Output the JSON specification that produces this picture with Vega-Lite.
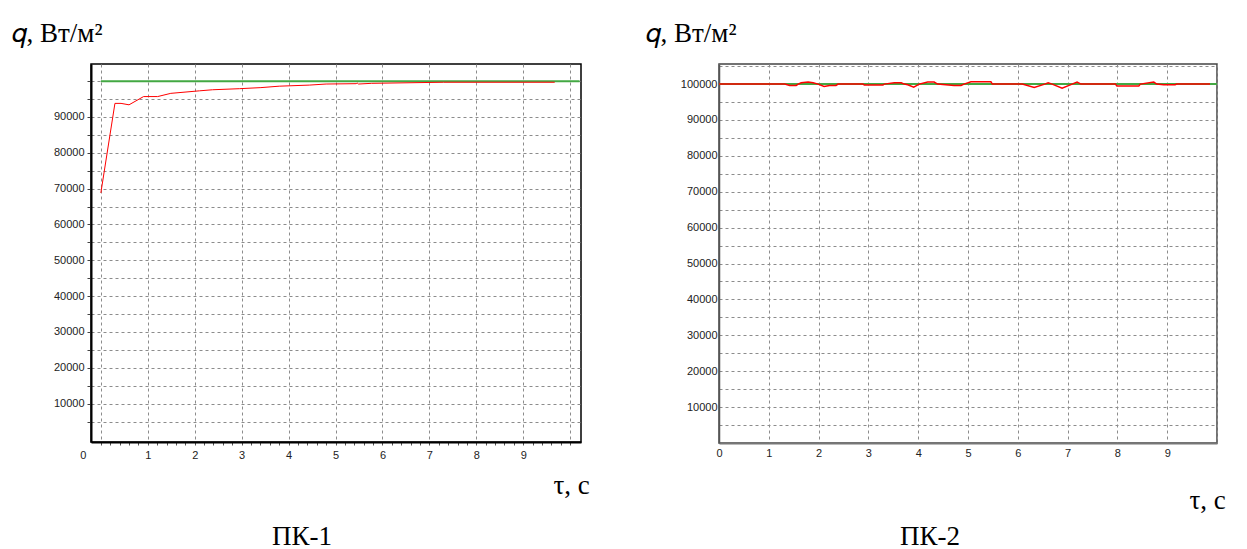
{
  "$schema": "https://vega.github.io/schema/vega-lite/v6.json",
  "background": "white",
  "padding": {"left": 10, "top": 18, "right": 5, "bottom": 0},
  "spacing": 53,
  "datasets": {
    "g1": [{"t": 0, "q": 100000}, {"t": 10.2, "q": 100000}],
    "r1": [
      {"t": 0.0, "q": 68800}, {"t": 0.30, "q": 93800}, {"t": 0.43, "q": 93800}, {"t": 0.60, "q": 93400},
      {"t": 0.91, "q": 95700}, {"t": 1.21, "q": 95700}, {"t": 1.49, "q": 96600}, {"t": 2.10, "q": 97300},
      {"t": 2.38, "q": 97600}, {"t": 2.95, "q": 97900}, {"t": 3.41, "q": 98200}, {"t": 3.80, "q": 98600},
      {"t": 4.44, "q": 98900}, {"t": 4.80, "q": 99200}, {"t": 5.44, "q": 99300}, {"t": 5.46, "q": 99500},
      {"t": 5.49, "q": 99200}, {"t": 5.77, "q": 99400}, {"t": 7.30, "q": 99700}, {"t": 9.67, "q": 99700}
    ],
    "g2": [{"t": 0, "q": 100000}, {"t": 10, "q": 100000}],
    "r2": [
      {"t": 0, "q": 100000}, {"t": 1.32, "q": 100000}, {"t": 1.42, "q": 99630}, {"t": 1.55, "q": 99630},
      {"t": 1.59, "q": 100000}, {"t": 1.65, "q": 100370}, {"t": 1.79, "q": 100560}, {"t": 1.89, "q": 100370},
      {"t": 1.99, "q": 100000}, {"t": 2.11, "q": 99350}, {"t": 2.22, "q": 99630}, {"t": 2.35, "q": 99630},
      {"t": 2.39, "q": 100000}, {"t": 2.89, "q": 100000}, {"t": 2.92, "q": 99720}, {"t": 3.29, "q": 99720},
      {"t": 3.32, "q": 100000}, {"t": 3.52, "q": 100370}, {"t": 3.66, "q": 100370}, {"t": 3.72, "q": 100000},
      {"t": 3.79, "q": 99800}, {"t": 3.91, "q": 99160}, {"t": 4.02, "q": 100000}, {"t": 4.19, "q": 100560},
      {"t": 4.32, "q": 100560}, {"t": 4.39, "q": 100000}, {"t": 4.72, "q": 99630}, {"t": 4.86, "q": 99630},
      {"t": 4.92, "q": 100000}, {"t": 5.06, "q": 100650}, {"t": 5.46, "q": 100650}, {"t": 5.49, "q": 100000},
      {"t": 6.09, "q": 100000}, {"t": 6.33, "q": 99070}, {"t": 6.54, "q": 100000}, {"t": 6.61, "q": 100370},
      {"t": 6.69, "q": 100000}, {"t": 6.89, "q": 98880}, {"t": 7.09, "q": 100000}, {"t": 7.19, "q": 100560},
      {"t": 7.27, "q": 100000}, {"t": 7.96, "q": 100000}, {"t": 7.99, "q": 99440}, {"t": 8.43, "q": 99440},
      {"t": 8.46, "q": 100000}, {"t": 8.73, "q": 100560}, {"t": 8.79, "q": 100000}, {"t": 8.93, "q": 99810},
      {"t": 9.16, "q": 99810}, {"t": 9.19, "q": 100000}, {"t": 9.86, "q": 100000}
    ]
  },
  "config": {
    "axis": {
      "labelFont": "Liberation Sans", "labelFontSize": 11, "labelColor": "#222",
      "gridColor": "#8c8c8c", "gridDash": [3, 3], "gridWidth": 1,
      "titleFont": "Liberation Serif", "titleFontSize": 27, "titleFontWeight": "normal", "titleColor": "#000",
      "titleAngle": 0, "titleAlign": "left", "titleBaseline": "alphabetic"
    },
    "title": {"font": "Liberation Serif", "fontSize": 27, "fontWeight": "normal", "color": "#000"}
  },
  "hconcat": [
    {
      "width": 490, "height": 378,
      "view": {"stroke": "#000", "strokeWidth": 1.5},
      "title": {"text": "ПК-1", "orient": "bottom", "anchor": "middle", "baseline": "top", "offset": 26, "dx": -34},
      "encoding": {
        "x": {
          "field": "t", "type": "quantitative",
          "scale": {"domain": [-0.21, 10.23], "nice": false, "zero": false},
          "axis": {
            "title": "τ, с", "titleX": 462, "titleY": 51,
            "values": [0,0.2,0.4,0.6,0.8,1,1.2,1.4,1.6,1.8,2,2.2,2.4,2.6,2.8,3,3.2,3.4,3.6,3.8,4,4.2,4.4,4.6,4.8,5,5.2,5.4,5.6,5.8,6,6.2,6.4,6.6,6.8,7,7.2,7.4,7.6,7.8,8,8.2,8.4,8.6,8.8,9,9.2,9.4,9.6,9.8,10],
            "labelExpr": "abs(datum.value - round(datum.value)) < 0.01 && datum.value < 9.5 ? format(datum.value, 'd') : ''",
            "gridOpacity": {"condition": {"test": "abs(datum.value - round(datum.value)) > 0.01", "value": 0}, "value": 1},
            "labelOffset": {"condition": {"test": "datum.value == 0", "value": -18}, "value": 0},
            "tickSize": 3, "tickColor": "#555", "labelPadding": 4,
            "domainColor": "#000", "domainWidth": 2, "labelFlush": false, "labelOverlap": false
          }
        },
        "y": {
          "field": "q", "type": "quantitative",
          "scale": {"domain": [-700, 104790], "nice": false, "zero": false},
          "axis": {
            "title": "𝑞, Вт/м²", "titleX": -80, "titleY": -23,
            "values": [5000,10000,15000,20000,25000,30000,35000,40000,45000,50000,55000,60000,65000,70000,75000,80000,85000,90000,95000,100000],
            "labelExpr": "datum.value % 10000 == 0 && datum.value < 100000 ? format(datum.value, 'd') : ''",
            "tickSize": 4, "tickColor": "#444", "labelPadding": 3,
            "domainColor": "#000", "domainWidth": 2, "labelOverlap": false
          }
        }
      },
      "layer": [
        {"data": {"name": "g1"}, "mark": {"type": "line", "color": "#43a843", "strokeWidth": 2}},
        {"data": {"name": "r1"}, "mark": {"type": "line", "color": "#ff0000", "strokeWidth": 1}}
      ]
    },
    {
      "width": 498, "height": 379,
      "view": {"stroke": "#444", "strokeWidth": 1.5},
      "title": {"text": "ПК-2", "orient": "bottom", "anchor": "middle", "baseline": "top", "offset": 11, "dx": -38},
      "encoding": {
        "x": {
          "field": "t", "type": "quantitative",
          "scale": {"domain": [0, 10], "nice": false, "zero": false},
          "axis": {
            "title": "τ, с", "titleX": 470, "titleY": 65,
            "values": [0,1,2,3,4,5,6,7,8,9,10],
            "labelExpr": "datum.value < 9.5 ? format(datum.value, 'd') : ''",
            "tickSize": 0, "labelPadding": 4,
            "domainColor": "#777", "domainWidth": 2, "labelFlush": false, "labelOverlap": false
          }
        },
        "y": {
          "field": "q", "type": "quantitative",
          "scale": {"domain": [0, 105600], "nice": false, "zero": false},
          "axis": {
            "title": "𝑞, Вт/м²", "titleX": -74, "titleY": -23,
            "values": [5000,10000,15000,20000,25000,30000,35000,40000,45000,50000,55000,60000,65000,70000,75000,80000,85000,90000,95000,100000,105000],
            "labelExpr": "datum.value % 10000 == 0 && datum.value <= 100000 ? format(datum.value, 'd') : ''",
            "tickSize": 0, "labelPadding": 2,
            "domainColor": "#555", "domainWidth": 1.5, "labelOverlap": false
          }
        }
      },
      "layer": [
        {"data": {"name": "g2"}, "mark": {"type": "line", "color": "#43a843", "strokeWidth": 2}},
        {"data": {"name": "r2"}, "mark": {"type": "line", "color": "#ff0000", "strokeWidth": 1.5}}
      ]
    }
  ]
}
